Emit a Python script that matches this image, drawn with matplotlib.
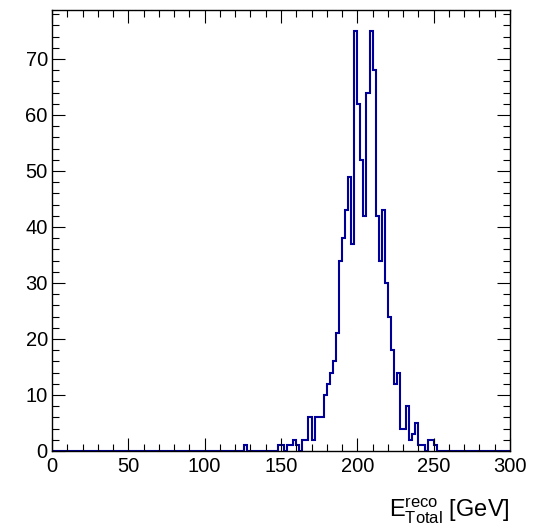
import numpy as np
import matplotlib
matplotlib.use('Agg')
import matplotlib.pyplot as plt
from matplotlib.ticker import MultipleLocator

plt.rcParams['font.family'] = ['Liberation Sans', 'DejaVu Sans']
plt.rcParams['mathtext.fontset'] = 'custom'
plt.rcParams['mathtext.rm'] = 'Liberation Sans'

# histogram: 150 bins of 2 GeV from 0 to 300, only the filled bins are listed
bin_width = 2
x_min, x_max = 0, 300
bin_low = [126, 148, 150, 154, 156, 158, 160, 164, 166, 168,
           170, 172, 174, 176, 178, 180, 182, 184, 186, 188,
           190, 192, 194, 196, 198, 200, 202, 204, 206, 208,
           210, 212, 214, 216, 218, 220, 222, 224, 226, 228,
           230, 232, 234, 236, 238, 240, 242, 246, 248, 250]
counts = [1, 1, 1, 1, 1, 2, 1, 2, 2, 6,
          2, 6, 6, 6, 10, 12, 14, 16, 21, 34,
          38, 43, 49, 37, 75, 62, 52, 42, 64, 75,
          68, 42, 34, 43, 30, 24, 18, 12, 14, 4,
          4, 8, 2, 3, 5, 1, 1, 2, 2, 1]


def run():
    edges = np.arange(x_min, x_max + bin_width, bin_width)
    values = np.zeros(len(edges) - 1)
    for lo, c in zip(bin_low, counts):
        values[(lo - x_min) // bin_width] = c

    fig = plt.figure(figsize=(5.46, 5.27), dpi=100)
    ax = fig.add_axes([52 / 546, 1 - 451 / 527, (510 - 52) / 546, (451 - 10) / 527])

    ax.stairs(values, edges, color='#000099', linewidth=1.5)

    ax.set_xlim(x_min, x_max)
    ax.set_ylim(0, max(counts) * 1.05)

    ax.xaxis.set_major_locator(MultipleLocator(50))
    ax.xaxis.set_minor_locator(MultipleLocator(10))
    ax.yaxis.set_major_locator(MultipleLocator(10))
    ax.yaxis.set_minor_locator(MultipleLocator(2))
    ax.tick_params(which='both', direction='in', top=True, right=True,
                   width=0.8, labelsize=14.5)
    ax.tick_params(which='major', length=9.5)
    ax.tick_params(which='minor', length=5)
    ax.tick_params(axis='x', pad=4)
    ax.tick_params(axis='y', pad=3)
    for s in ax.spines.values():
        s.set_linewidth(1.0)

    fig.text(510 / 546, 1 - 517 / 527, r'$\mathrm{E^{reco}_{Total}}$ [GeV]',
             ha='right', va='baseline', fontsize=17)

    plt.savefig('out.png', dpi=100)


if __name__ == "__main__":
    run()
